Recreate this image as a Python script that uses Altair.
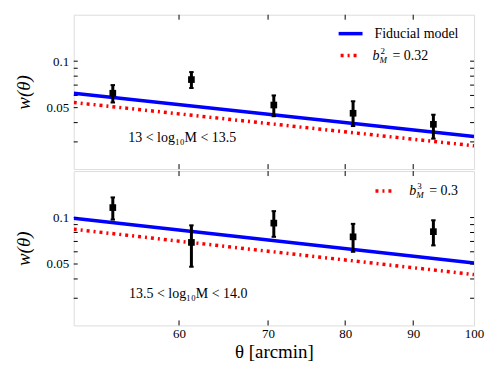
import altair as alt
import pandas as pd

# ---- data ----
theta = [53.5, 61.3, 70.7, 81.1, 93.2]

top_w = [0.062, 0.076, 0.052, 0.046, 0.039]
top_lo = [0.054, 0.067, 0.044, 0.038, 0.0315]
top_hi = [0.070, 0.085, 0.060, 0.055, 0.045]

bot_w = [0.116, 0.069, 0.092, 0.075, 0.081]
bot_lo = [0.097, 0.048, 0.075, 0.060, 0.066]
bot_hi = [0.135, 0.089, 0.110, 0.091, 0.096]

model_theta = [50, 100]
top_fid = [0.062, 0.0325]
top_alt = [0.054, 0.0283]
bot_fid = [0.099, 0.0507]
bot_alt = [0.084, 0.0427]

x_ticks = [60, 70, 80, 90, 100]
y_labels = [0.05, 0.1]
y_minor = [0.03, 0.04, 0.05, 0.06, 0.07, 0.08, 0.09, 0.1]

top_note = "13 < log₁₀M < 13.5"
bot_note = "13.5 < log₁₀M < 14.0"

W, H = 402, 155
FONT = "Liberation Serif"
BLUE = "#0000ff"
RED = "#ff0000"
DASH = [3, 4, 2, 4]

xscale = alt.Scale(type="log", domain=[50, 100], nice=False)
yscale = alt.Scale(type="log", domain=[0.02, 0.2], nice=False)

yaxis = alt.Axis(values=y_labels, format=".2~f", ticks=False, domain=False, grid=False,
                 title="w(θ)", titleFont=FONT, titleFontSize=19, titleFontStyle="italic",
                 titleFontWeight="normal", titlePadding=13, labelFont=FONT,
                 labelFontSize=13, labelPadding=5, labelColor="black", titleColor="black")


def xenc(field, labels):
    if labels:
        ax = alt.Axis(values=x_ticks, format="d", ticks=False, domain=False, grid=False,
                      title="θ [arcmin]", titleFont=FONT, titleFontSize=19,
                      titleFontWeight="normal", titlePadding=2, labelFont=FONT,
                      labelFontSize=13, labelPadding=2, labelColor="black",
                      titleColor="black", labelFlush=False)
    else:
        ax = alt.Axis(labels=False, ticks=False, domain=False, grid=False, title=None)
    return alt.X(f"{field}:Q", scale=xscale, axis=ax)


def yenc(field):
    return alt.Y(f"{field}:Q", scale=yscale, axis=yaxis)


one = pd.DataFrame({"k": [0]})


def panel(w, lo, hi, fid, alt_line, note, legend, labels):
    pts = pd.DataFrame({"x": theta, "y": w, "lo": lo, "hi": hi})
    mdl = pd.DataFrame({"x": model_theta, "fid": fid, "alt": alt_line})
    xt = pd.DataFrame({"x": x_ticks[:-1]})
    yt = pd.DataFrame({"y": y_minor})

    layers = []
    layers.append(alt.Chart(mdl).mark_line(color=BLUE, strokeWidth=3.5, clip=True).encode(
        x=xenc("x", labels), y=yenc("fid")))
    layers.append(alt.Chart(mdl).mark_line(color=RED, strokeWidth=3.5, strokeDash=DASH,
                                           clip=True).encode(x=xenc("x", labels), y=yenc("alt")))
    layers.append(alt.Chart(pts).mark_rule(color="black", strokeWidth=3).encode(
        x=xenc("x", labels), y=yenc("lo"), y2="hi:Q"))
    for f in ["lo", "hi"]:
        layers.append(alt.Chart(pts).mark_point(shape="M-1,0L1,0", filled=False, color="black",
                                                strokeWidth=2, size=20, opacity=1).encode(
            x=xenc("x", labels), y=yenc(f)))
    layers.append(alt.Chart(pts).mark_square(color="black", size=45, opacity=1).encode(
        x=xenc("x", labels), y=yenc("y")))
    # inward ticks
    layers.append(alt.Chart(xt).mark_rule(color="black", strokeWidth=1).encode(
        x=xenc("x", labels), y=alt.value(H), y2=alt.value(H - 5)))
    layers.append(alt.Chart(xt).mark_rule(color="black", strokeWidth=1).encode(
        x=xenc("x", labels), y=alt.value(0), y2=alt.value(5)))
    layers.append(alt.Chart(yt).mark_rule(color="black", strokeWidth=1).encode(
        y=yenc("y"), x=alt.value(0), x2=alt.value(4)))
    layers.append(alt.Chart(yt).mark_rule(color="black", strokeWidth=1).encode(
        y=yenc("y"), x=alt.value(W), x2=alt.value(W - 4)))
    # note
    layers.append(alt.Chart(one).mark_text(font=FONT, fontSize=14, color="black",
                                           align="center", baseline="middle").encode(
        x=alt.value(note[1]), y=alt.value(note[2]), text=alt.value(note[0])))
    layers.extend(legend)
    return alt.layer(*layers).properties(width=W, height=H)


def leg_line(x1, x2, y, color, dash=None):
    kw = dict(color=color, strokeWidth=3.5)
    if dash:
        kw["strokeDash"] = dash
    return alt.Chart(one).mark_rule(**kw).encode(x=alt.value(x1), x2=alt.value(x2), y=alt.value(y))


def leg_text(x, y, s, size=14, style="normal"):
    return alt.Chart(one).mark_text(font=FONT, fontSize=size, fontStyle=style, color="black",
                                    align="left", baseline="middle").encode(
        x=alt.value(x), y=alt.value(y), text=alt.value(s))


def bterm(x, y, sup, val):
    return [leg_text(x, y, "b", 14, "italic"),
            leg_text(x + 8, y - 5, sup, 9),
            leg_text(x + 7, y + 4, "M", 9, "italic"),
            leg_text(x + 20, y, val)]


top_legend = [leg_line(266, 290, 19, BLUE), leg_text(302, 19, "Fiducial model"),
              leg_line(268, 288, 41, RED, DASH)] + bterm(300, 41, "2", "= 0.32")
bot_legend = [leg_line(303, 321, 20, RED, DASH)] + bterm(337, 20, "3", "= 0.3")

top = panel(top_w, top_lo, top_hi, top_fid, top_alt, (top_note, 109, 124), top_legend, False)
bot = panel(bot_w, bot_lo, bot_hi, bot_fid, bot_alt, (bot_note, 115, 123), bot_legend, True)

chart = alt.vconcat(top, bot, spacing=0).properties(
    padding={"left": 5, "top": 5, "right": 5, "bottom": 5}
).configure_view(stroke="black", strokeWidth=1.2).configure(background="white")

chart.save("out.html", embed_options={"renderer": "svg", "actions": False})
